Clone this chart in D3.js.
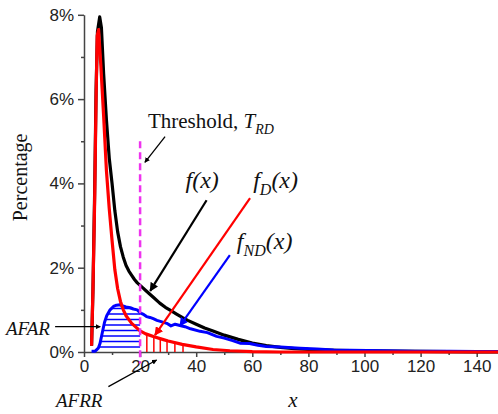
<!DOCTYPE html>
<html>
<head>
<meta charset="utf-8">
<script src="https://cdn.jsdelivr.net/npm/d3@7"></script>
<style>
  body { margin: 0; background: #fff; }
  svg { display: block; }
  .tick text { font-family: "Liberation Sans", Arial, sans-serif; font-size: 17px; fill: #222; }
  .serif { font-family: "Liberation Serif", "Times New Roman", serif; fill: #111; }
</style>
</head>
<body>
<div id="chart"></div>
<script>
// f(x) - all
var blackX = [2.7, 3.2, 3.8, 4.3, 4.8, 5.6, 6.2, 7, 8, 9, 10, 11, 12, 13, 14, 15, 16, 17, 18, 19, 20, 21, 22, 23, 24, 25, 27, 29, 31, 33, 35, 37, 40, 43, 46, 50, 55, 60, 65, 70, 75, 80, 90, 100, 110, 120, 130, 140, 150];
var blackY = [0.15, 1.5, 3.8, 6.2, 7.6, 7.95, 7.7, 6.6, 5.5, 4.6, 4.0, 3.35, 2.85, 2.5, 2.25, 2.05, 1.92, 1.82, 1.72, 1.64, 1.58, 1.52, 1.46, 1.4, 1.34, 1.28, 1.16, 1.06, 0.98, 0.9, 0.82, 0.75, 0.66, 0.57, 0.5, 0.4, 0.3, 0.21, 0.15, 0.11, 0.08, 0.06, 0.04, 0.03, 0.02, 0.015, 0.01, 0.005, 0];
// fD(x)
var redX = [2.7, 3.2, 3.8, 4.3, 4.7, 5.2, 6, 7, 8, 9, 10, 11, 12, 13, 14, 15, 17, 20, 22, 25, 28, 30, 35, 40, 46, 52, 60, 70, 150];
var redY = [0.15, 1.5, 3.6, 6.0, 7.5, 7.65, 6.8, 5.6, 4.3, 3.4, 2.65, 1.95, 1.5, 1.2, 1.0, 0.86, 0.68, 0.5, 0.43, 0.36, 0.3, 0.26, 0.18, 0.12, 0.06, 0.03, 0.01, 0, 0];
// fND(x)
var blueX = [2.7, 4, 5.1, 5.7, 6.5, 7.3, 8.1, 9.3, 10.5, 11.6, 12.8, 13.9, 15, 16.5, 17.6, 19, 20, 21, 22.3, 23.5, 24.7, 26, 27.5, 29.5, 31, 32.5, 34.2, 36, 38, 41.4, 44, 47.3, 50, 53, 55.6, 59, 62, 65, 70, 77, 83, 89, 95, 107, 118, 130, 140, 150];
var blueY = [0.02, 0.02, 0.09, 0.2, 0.45, 0.7, 0.86, 1.0, 1.08, 1.11, 1.12, 1.09, 1.07, 1.05, 1.02, 1.0, 0.93, 0.9, 0.84, 0.82, 0.79, 0.75, 0.72, 0.68, 0.62, 0.66, 0.63, 0.6, 0.55, 0.49, 0.46, 0.37, 0.33, 0.27, 0.21, 0.2, 0.16, 0.13, 0.12, 0.09, 0.07, 0.05, 0.04, 0.03, 0.02, 0.02, 0.01, 0.01];

var xTicks = [0, 20, 40, 60, 80, 100, 120, 140];
var xMinor = [10, 30, 50, 70, 90, 110, 130];
var yTicks = [0, 2, 4, 6, 8];
var yMinor = [1, 3, 5, 7];
var threshold = 20;
var afarLevels = [0.12, 0.25, 0.38, 0.51, 0.64, 0.77, 0.9, 1.03];
var afrrX = [22.4, 24.9, 27.2, 29.6, 32.4, 35.3];

var W = 498, H = 414;
var svg = d3.select("#chart").append("svg").attr("width", W).attr("height", H);

var x = d3.scaleLinear().domain([0, 150]).range([84, 504.75]);
var y = d3.scaleLinear().domain([0, 8]).range([352, 14.8]);

var pts = (xs, ys) => xs.map((v, i) => [v, ys[i]]);
var black = pts(blackX, blackY), red = pts(redX, redY), blue = pts(blueX, blueY);

var line = d3.line().x(d => x(d[0])).y(d => y(d[1]));
var area = d3.area().x(d => x(d[0])).y0(y(0)).y1(d => y(d[1]));

// markers
var defs = svg.append("defs");
[["k", "#000"], ["r", "#ff0000"], ["b", "#0000ff"]].forEach(function (m) {
  defs.append("marker").attr("id", "arr-" + m[0])
    .attr("viewBox", "0 0 10 10").attr("refX", 9).attr("refY", 5)
    .attr("markerWidth", 4).attr("markerHeight", 4).attr("orient", "auto")
    .append("path").attr("d", "M0,0 L10,5 L0,10 z").attr("fill", m[1]);
});
defs.append("clipPath").attr("id", "clip-blue").append("path").attr("d", area(blue));
defs.append("clipPath").attr("id", "clip-red").append("path").attr("d", area(red));

// axes
var axisX = svg.append("g").attr("transform", "translate(0," + y(0) + ")")
  .call(d3.axisBottom(x).tickValues(xTicks).tickSize(5).tickSizeOuter(0).tickPadding(3));
svg.append("g").attr("transform", "translate(0," + y(0) + ")")
  .call(d3.axisBottom(x).tickValues(xMinor).tickSize(3).tickSizeOuter(0).tickFormat(""))
  .select(".domain").remove();
var axisY = svg.append("g").attr("transform", "translate(" + x(0) + ",0)")
  .call(d3.axisLeft(y).tickValues(yTicks).tickSize(6).tickSizeOuter(0).tickPadding(4).tickFormat(d => d + "%"));
svg.append("g").attr("transform", "translate(" + x(0) + ",0)")
  .call(d3.axisLeft(y).tickValues(yMinor).tickSize(3).tickSizeOuter(0).tickFormat(""))
  .select(".domain").remove();
svg.selectAll(".domain, .tick line").attr("stroke", "#444").attr("stroke-width", 1.5);

// AFAR hatching (horizontal, under blue, left of threshold)
svg.append("g").attr("clip-path", "url(#clip-blue)")
  .selectAll("line").data(afarLevels).enter().append("line")
  .attr("x1", x(0)).attr("x2", x(threshold))
  .attr("y1", d => y(d)).attr("y2", d => y(d))
  .attr("stroke", "#0000ff").attr("stroke-width", 1.5);

// AFRR hatching (vertical, under red, right of threshold)
svg.append("g").attr("clip-path", "url(#clip-red)")
  .selectAll("line").data(afrrX).enter().append("line")
  .attr("x1", d => x(d)).attr("x2", d => x(d))
  .attr("y1", y(0)).attr("y2", y(2))
  .attr("stroke", "#ff0000").attr("stroke-width", 1.5);

// curves
svg.append("path").attr("d", line(black)).attr("fill", "none").attr("stroke", "#000").attr("stroke-width", 3.2).attr("stroke-linejoin", "round");
svg.append("path").attr("d", line(blue)).attr("fill", "none").attr("stroke", "#0000ff").attr("stroke-width", 3).attr("stroke-linejoin", "round");
svg.append("path").attr("d", line(red)).attr("fill", "none").attr("stroke", "#ff0000").attr("stroke-width", 3.2).attr("stroke-linejoin", "round");

// threshold
svg.append("line").attr("x1", x(threshold)).attr("x2", x(threshold))
  .attr("y1", y(5.0)).attr("y2", y(-0.27))
  .attr("stroke", "#ee33ee").attr("stroke-width", 2.5).attr("stroke-dasharray", "7,4");

// arrows
function arrow(p0, p1, color, id, w) {
  svg.append("line")
    .attr("x1", x(p0[0])).attr("y1", y(p0[1])).attr("x2", x(p1[0])).attr("y2", y(p1[1]))
    .attr("stroke", color).attr("stroke-width", w).attr("marker-end", "url(#arr-" + id + ")");
}
arrow([28.9, 5.11], [21.7, 4.5], "#000", "k", 1.3);
arrow([43.7, 3.6], [23.6, 1.45], "#000", "k", 2.2);
arrow([59.2, 3.65], [25.3, 0.4], "#ff0000", "r", 2.2);
arrow([52.0, 2.3], [34.2, 0.62], "#0000ff", "b", 2.2);
arrow([-10.3, 0.6], [5.8, 0.6], "#000", "k", 1.3);
arrow([8.7, -0.82], [25.9, -0.19], "#000", "k", 1.3);

// labels
svg.append("text").attr("class", "serif").attr("font-size", 20)
  .attr("transform", "translate(27," + ((y(0) + y(8)) / 2 - 6) + ") rotate(-90)")
  .attr("text-anchor", "middle").text("Percentage");
svg.append("text").attr("class", "serif").attr("font-size", 21).attr("font-style", "italic")
  .attr("x", x(74.5)).attr("y", 407).attr("text-anchor", "middle").text("x");

var t = svg.append("text").attr("class", "serif").attr("font-size", 21)
  .attr("x", x(22.8)).attr("y", y(5.31));
t.append("tspan").text("Threshold, ");
t.append("tspan").attr("font-style", "italic").text("T");
t.append("tspan").attr("font-style", "italic").attr("font-size", 14).attr("dy", 6).text("RD");

var f = svg.append("text").attr("class", "serif").attr("font-size", 24).attr("font-style", "italic")
  .attr("x", x(36.2)).attr("y", y(3.9));
f.append("tspan").text("f(x)");

var fd = svg.append("text").attr("class", "serif").attr("font-size", 24).attr("font-style", "italic")
  .attr("x", x(60.3)).attr("y", y(3.9));
fd.append("tspan").text("f");
fd.append("tspan").attr("font-size", 16).attr("dy", 7).text("D");
fd.append("tspan").attr("dy", -7).text("(x)");

var fnd = svg.append("text").attr("class", "serif").attr("font-size", 24).attr("font-style", "italic")
  .attr("x", x(54.5)).attr("y", y(2.45));
fnd.append("tspan").text("f");
fnd.append("tspan").attr("font-size", 16).attr("dy", 7).text("ND");
fnd.append("tspan").attr("dy", -7).text("(x)");

svg.append("text").attr("class", "serif").attr("font-size", 19).attr("font-style", "italic")
  .attr("x", 6).attr("y", y(0.4)).text("AFAR");
svg.append("text").attr("class", "serif").attr("font-size", 19).attr("font-style", "italic")
  .attr("x", 56).attr("y", 407).text("AFRR");
</script>
</body>
</html>
